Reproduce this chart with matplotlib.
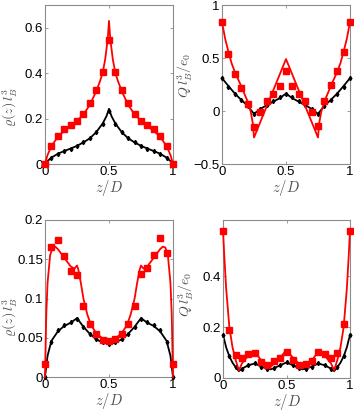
import matplotlib
matplotlib.use("Agg")
import matplotlib.pyplot as plt

plt.rcParams['font.family'] = ['Liberation Sans', 'DejaVu Sans']
plt.rcParams['mathtext.fontset'] = 'cm'

# marker positions (simulation data), shared by all panels
z_pts = [0, 0.05, 0.1, 0.15, 0.2, 0.25, 0.3, 0.35, 0.4, 0.45, 0.5,
         0.55, 0.6, 0.65, 0.7, 0.75, 0.8, 0.85, 0.9, 0.95, 1]

# ---- panel (a) density, top left
a_red_z = [0, 0.02, 0.05, 0.1, 0.15, 0.2, 0.25, 0.3, 0.35, 0.4, 0.43, 0.45, 0.47, 0.49, 0.5,
           0.51, 0.53, 0.55, 0.57, 0.6, 0.65, 0.7, 0.75, 0.8, 0.85, 0.9, 0.95, 0.98, 1]
a_red_line = [0, 0.04, 0.078, 0.12, 0.145, 0.167, 0.19, 0.218, 0.26, 0.32, 0.365, 0.4, 0.46, 0.55, 0.63,
              0.55, 0.46, 0.4, 0.365, 0.32, 0.26, 0.218, 0.19, 0.167, 0.145, 0.12, 0.078, 0.04, 0]
a_red_pts = [0, 0.079, 0.124, 0.155, 0.173, 0.188, 0.218, 0.27, 0.327, 0.405, 0.544,
             0.405, 0.327, 0.27, 0.218, 0.188, 0.173, 0.155, 0.124, 0.079, 0]
a_blk_z = [0, 0.02, 0.05, 0.1, 0.15, 0.2, 0.25, 0.3, 0.35, 0.4, 0.45, 0.48, 0.5,
           0.52, 0.55, 0.6, 0.65, 0.7, 0.75, 0.8, 0.85, 0.9, 0.95, 0.98, 1]
a_blk_line = [0, 0.013, 0.028, 0.045, 0.057, 0.068, 0.08, 0.095, 0.113, 0.14, 0.178, 0.21, 0.243,
              0.21, 0.178, 0.14, 0.113, 0.095, 0.08, 0.068, 0.057, 0.045, 0.028, 0.013, 0]
a_blk_pts = [0, 0.028, 0.045, 0.057, 0.068, 0.08, 0.095, 0.113, 0.14, 0.175, 0.235,
             0.175, 0.14, 0.113, 0.095, 0.08, 0.068, 0.057, 0.045, 0.028, 0]

# ---- panel (b) charge, top right
b_red_z = [0, 0.025, 0.05, 0.075, 0.1, 0.15, 0.2, 0.225, 0.24, 0.25, 0.5,
           0.75, 0.76, 0.775, 0.8, 0.85, 0.9, 0.925, 0.95, 0.975, 1]
b_red_line = [0.84, 0.68, 0.56, 0.45, 0.37, 0.235, 0.09, -0.01, -0.11, -0.25, 0.49,
              -0.25, -0.11, -0.01, 0.09, 0.235, 0.37, 0.45, 0.56, 0.68, 0.84]
b_red_pts = [0.84, 0.54, 0.35, 0.22, 0.064, -0.153, -0.006, 0.095, 0.16, 0.235, 0.376,
             0.235, 0.16, 0.095, -0.006, -0.14, 0.09, 0.245, 0.38, 0.56, 0.84]
b_blk_z = [0, 0.05, 0.1, 0.15, 0.2, 0.25, 0.3, 0.35, 0.4, 0.45, 0.5,
           0.55, 0.6, 0.65, 0.7, 0.75, 0.8, 0.85, 0.9, 0.95, 1]
b_blk_line = [0.31, 0.236, 0.165, 0.105, 0.05, -0.027, 0.02, 0.055, 0.088, 0.12, 0.165,
              0.12, 0.088, 0.055, 0.02, -0.027, 0.05, 0.105, 0.165, 0.236, 0.31]
b_blk_pts = [0.31, 0.225, 0.16, 0.1, 0.045, -0.025, 0.02, 0.06, 0.095, 0.128, 0.165,
             0.128, 0.095, 0.06, 0.02, -0.025, 0.045, 0.1, 0.16, 0.225, 0.31]

# ---- panel (c) density, bottom left
c_red_z = [0, 0.01, 0.02, 0.04, 0.06, 0.08, 0.1, 0.15, 0.2, 0.23, 0.25, 0.26, 0.28, 0.3, 0.33,
           0.36, 0.4, 0.45, 0.5, 0.55, 0.6, 0.64, 0.67, 0.7, 0.72, 0.74, 0.75, 0.77, 0.8, 0.85,
           0.9, 0.92, 0.94, 0.96, 0.98, 0.99, 1]
c_red_line = [0, 0.08, 0.12, 0.155, 0.165, 0.166, 0.163, 0.152, 0.141, 0.138, 0.142, 0.137, 0.12,
              0.1, 0.08, 0.066, 0.056, 0.049, 0.047, 0.049, 0.056, 0.066, 0.08, 0.1, 0.12, 0.137,
              0.142, 0.138, 0.141, 0.152, 0.163, 0.166, 0.165, 0.155, 0.12, 0.08, 0]
c_red_pts = [0.017, 0.166, 0.175, 0.154, 0.135, 0.13, 0.09, 0.067, 0.055, 0.047, 0.046,
             0.049, 0.055, 0.068, 0.09, 0.131, 0.139, 0.156, 0.177, 0.158, 0.017]
c_blk_z = [0, 0.02, 0.05, 0.1, 0.15, 0.2, 0.25, 0.3, 0.35, 0.4, 0.45, 0.5,
           0.55, 0.6, 0.65, 0.7, 0.75, 0.8, 0.85, 0.9, 0.95, 0.98, 1]
c_blk_line = [0, 0.027, 0.046, 0.058, 0.065, 0.069, 0.075, 0.064, 0.055, 0.048, 0.044, 0.042,
              0.044, 0.048, 0.055, 0.064, 0.075, 0.069, 0.065, 0.058, 0.046, 0.027, 0]
c_blk_pts = [0, 0.045, 0.06, 0.066, 0.07, 0.074, 0.064, 0.055, 0.048, 0.044, 0.042,
             0.044, 0.048, 0.055, 0.064, 0.074, 0.07, 0.066, 0.06, 0.045, 0]

# ---- panel (d) charge, bottom right
d_z = [0, 0.01, 0.025, 0.05, 0.075, 0.1, 0.125, 0.15, 0.2, 0.25, 0.3, 0.35, 0.375, 0.4, 0.45, 0.5,
       0.55, 0.6, 0.625, 0.65, 0.7, 0.75, 0.8, 0.85, 0.875, 0.9, 0.925, 0.95, 0.975, 0.99, 1]
d_red_line = [0.58, 0.48, 0.35, 0.2, 0.12, 0.07, 0.03, 0.058, 0.088, 0.103, 0.07, 0.05, 0.044,
              0.055, 0.08, 0.11, 0.08, 0.055, 0.044, 0.05, 0.07, 0.103, 0.088, 0.058, 0.03,
              0.07, 0.12, 0.2, 0.35, 0.48, 0.58]
d_red_pts = [0.576, 0.19, 0.089, 0.078, 0.093, 0.1, 0.064, 0.051, 0.067, 0.08, 0.103,
             0.07, 0.051, 0.054, 0.067, 0.103, 0.093, 0.077, 0.097, 0.21, 0.576]
d_blk_line = [0.168, 0.15, 0.12, 0.085, 0.06, 0.042, 0.027, 0.037, 0.05, 0.057, 0.045, 0.036,
              0.034, 0.038, 0.05, 0.061, 0.05, 0.038, 0.034, 0.036, 0.045, 0.057, 0.05, 0.037,
              0.027, 0.042, 0.06, 0.085, 0.12, 0.15, 0.168]
d_blk_pts = [0.168, 0.085, 0.042, 0.037, 0.05, 0.057, 0.045, 0.036, 0.038, 0.05, 0.061,
             0.05, 0.038, 0.036, 0.045, 0.057, 0.05, 0.037, 0.042, 0.085, 0.168]

RED = '#ff0000'
GREY = '#8c8c8c'
LABEL = '#505050'

fig = plt.figure(figsize=(3.54, 4.12), dpi=100)

# axes boxes in pixels: left, top, right, bottom
boxes = [(45, 5, 173, 164), (222, 5, 350, 164), (45, 220, 173, 377), (223, 220, 350, 378)]


def make_ax(box):
    l, t, r, b = box
    ax = fig.add_axes([l / 354, (412 - b) / 412, (r - l) / 354, (b - t) / 412])
    for s in ax.spines.values():
        s.set_color(GREY)
        s.set_linewidth(0.8)
    ax.tick_params(direction='in', length=2.5, width=0.6, color=GREY, labelsize=9.5,
                   top=True, right=True, pad=1.5, labelcolor='black')
    ax.set_xlim(0, 1)
    ax.set_xticks([0, 0.5, 1])
    ax.set_xticklabels(['0', '0.5', '1'])
    ax.set_xlabel(r'$z/D$', fontsize=10.5, color=LABEL, labelpad=0)
    return ax


def draw(ax, rz, rline, rpts, bz, bline, bpts):
    ax.plot(bz, bline, color='black', lw=1.3, zorder=2)
    ax.plot(z_pts, bpts, 'd', color='black', ms=2.2, zorder=3)
    ax.plot(rz, rline, color=RED, lw=1.3, zorder=4)
    ax.plot(z_pts, rpts, 's', color=RED, ms=4.3, zorder=5)


ax1 = make_ax(boxes[0])
draw(ax1, a_red_z, a_red_line, a_red_pts, a_blk_z, a_blk_line, a_blk_pts)
ax1.set_ylim(0, 0.7)
ax1.set_yticks([0, 0.2, 0.4, 0.6])
ax1.set_yticklabels(['0', '0.2', '0.4', '0.6'])
ax1.set_ylabel(r'$\varrho(z)\,l_B^3$', fontsize=10, color=LABEL)
ax1.yaxis.set_label_coords(-0.2, 0.36)

ax2 = make_ax(boxes[1])
draw(ax2, b_red_z, b_red_line, b_red_pts, b_blk_z, b_blk_line, b_blk_pts)
ax2.set_ylim(-0.5, 1)
ax2.set_yticks([-0.5, 0, 0.5, 1])
ax2.set_yticklabels(['\u22120.5', '0', '0.5', '1'])
ax2.set_ylabel(r'$Q\,l_B^3/e_0$', fontsize=10, color=LABEL)
ax2.yaxis.set_label_coords(-0.21, 0.56)

ax3 = make_ax(boxes[2])
draw(ax3, c_red_z, c_red_line, c_red_pts, c_blk_z, c_blk_line, c_blk_pts)
ax3.set_ylim(0, 0.2)
ax3.set_yticks([0, 0.05, 0.1, 0.15, 0.2])
ax3.set_yticklabels(['0', '0.05', '0.1', '0.15', '0.2'])
ax3.set_ylabel(r'$\varrho(z)\,l_B^3$', fontsize=10, color=LABEL)
ax3.yaxis.set_label_coords(-0.2, 0.38)

ax4 = make_ax(boxes[3])
draw(ax4, d_z, d_red_line, d_red_pts, d_z, d_blk_line, d_blk_pts)
ax4.set_ylim(0, 0.62)
ax4.set_yticks([0, 0.2, 0.4])
ax4.set_yticklabels(['0', '0.2', '0.4'])
ax4.set_ylabel(r'$Q\,l_B^3/e_0$', fontsize=10, color=LABEL)
ax4.yaxis.set_label_coords(-0.21, 0.53)

for ax in (ax1, ax2, ax3, ax4):
    for line in ax.lines:
        line.set_clip_on(False)

fig.savefig('out.png', dpi=100)
